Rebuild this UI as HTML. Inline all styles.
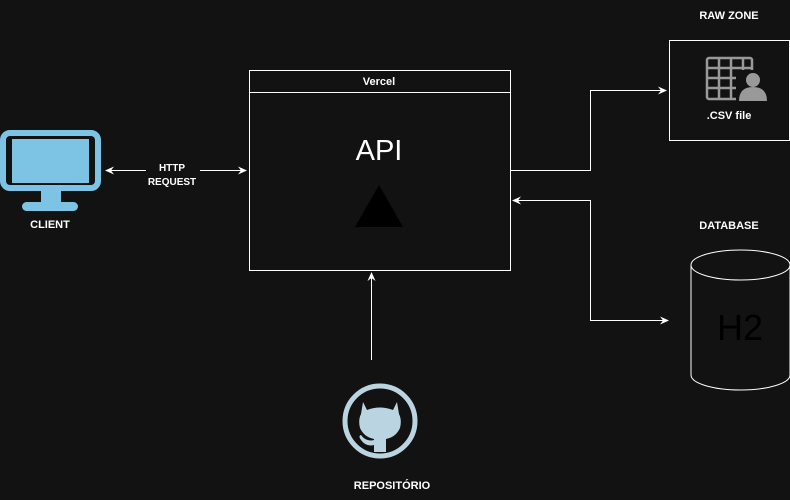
<!DOCTYPE html>
<html><head><style>
html,body{margin:0;padding:0;background:#121212;}
svg{display:block;font-family:"Liberation Sans",Arial,sans-serif;}
</style></head><body>
<svg width="790" height="500" viewBox="0 0 790 500" xmlns="http://www.w3.org/2000/svg">
<defs>
<marker id="a" markerWidth="10" markerHeight="10" refX="8" refY="5" orient="auto" markerUnits="userSpaceOnUse">
<path d="M0,1 L9,5 L0,9 L3,5 Z" fill="#fff"/>
</marker>
<marker id="b" markerWidth="10" markerHeight="10" refX="1" refY="5" orient="auto" markerUnits="userSpaceOnUse">
<path d="M9,1 L0,5 L9,9 L6,5 Z" fill="#fff"/>
</marker>
</defs>
<rect width="790" height="500" fill="#121212"/>

<!-- Vercel box -->
<rect x="249.5" y="70.5" width="261" height="200" fill="none" stroke="#fff"/>
<line x1="249" y1="92.5" x2="510" y2="92.5" stroke="#fff"/>
<text x="379" y="85" fill="#fff" font-size="11" font-weight="bold" text-anchor="middle">Vercel</text>
<text x="379" y="160" fill="#fff" font-size="29" text-anchor="middle">API</text>
<polygon points="379,185 355,227 403,227" fill="#000"/>

<!-- Client -->
<rect x="3" y="133" width="95" height="55" rx="7" fill="none" stroke="#7DC3E3" stroke-width="6"/>
<rect x="12" y="139" width="77" height="44" fill="#7DC3E3"/>
<rect x="41" y="190" width="20" height="14" fill="#7DC3E3"/>
<rect x="22" y="202" width="56" height="9" rx="4.5" fill="#7DC3E3"/>
<text x="50" y="228" fill="#fff" font-size="11" font-weight="bold" text-anchor="middle">CLIENT</text>

<!-- HTTP arrow -->
<line x1="106" y1="170.5" x2="246" y2="170.5" stroke="#fff" marker-start="url(#b)" marker-end="url(#a)"/>
<rect x="146" y="158" width="54" height="30" fill="#121212"/>
<text x="172" y="171" fill="#fff" font-size="10" font-weight="bold" text-anchor="middle">HTTP</text>
<text x="172" y="185" fill="#fff" font-size="10" font-weight="bold" text-anchor="middle">REQUEST</text>

<!-- Raw zone -->
<text x="729" y="19" fill="#fff" font-size="11" font-weight="bold" text-anchor="middle">RAW ZONE</text>
<rect x="669.5" y="40.5" width="120" height="100" fill="none" stroke="#fff"/>
<g stroke="#999" stroke-width="2.5" fill="none">
<rect x="707" y="58" width="45" height="41" rx="2"/>
<line x1="707" y1="68" x2="752" y2="68"/><line x1="707" y1="78" x2="752" y2="78"/><line x1="707" y1="88" x2="752" y2="88"/>
<line x1="719" y1="58" x2="719" y2="99"/><line x1="731" y1="58" x2="731" y2="99"/><line x1="743" y1="58" x2="743" y2="99"/>
</g>
<rect x="736" y="70" width="32" height="32" fill="#121212"/>
<circle cx="753" cy="80" r="7" fill="#999"/>
<path d="M739,101 Q739,87 753,87 Q767,87 767,101 Z" fill="#999"/>
<text x="729" y="119" fill="#fff" font-size="11" font-weight="bold" text-anchor="middle">.CSV file</text>

<!-- connectors right -->
<polyline points="510,170.5 590.5,170.5 590.5,90.5 666,90.5" fill="none" stroke="#fff" marker-end="url(#a)"/>
<polyline points="590.5,200.5 513,200.5" fill="none" stroke="#fff" marker-end="url(#a)"/>
<polyline points="590.5,200 590.5,320.5 668,320.5" fill="none" stroke="#fff" marker-end="url(#a)"/>

<!-- Database -->
<text x="729" y="229" fill="#fff" font-size="11" font-weight="bold" text-anchor="middle">DATABASE</text>
<path d="M691,265 L691,375 A49.5,15 0 0 0 790,375 L790,265" fill="none" stroke="#fff"/>
<ellipse cx="740.5" cy="265" rx="49.5" ry="15" fill="none" stroke="#fff"/>
<text x="740" y="340" fill="#000" font-size="36" text-anchor="middle">H2</text>

<!-- repo arrow -->
<line x1="371.5" y1="360" x2="371.5" y2="273" stroke="#fff" marker-end="url(#a)"/>

<!-- GitHub -->
<circle cx="380" cy="421" r="35" fill="none" stroke="#BBD4E2" stroke-width="5"/>
<path d="M363,402 L367,410 Q380,405 393,410 L397,402 L399,414 Q402,420 400,428 Q396,437 386,439 L386,452 L374,452 L374,445 Q366,447 361,440 Q358,436 361,435 Q366,442 374,440 L374,439 Q364,437 360,428 Q358,420 361,414 Z" fill="#BBD4E2"/>
<text x="392" y="489" fill="#fff" font-size="11" font-weight="bold" text-anchor="middle">REPOSITÓRIO</text>
</svg>
</body></html>
